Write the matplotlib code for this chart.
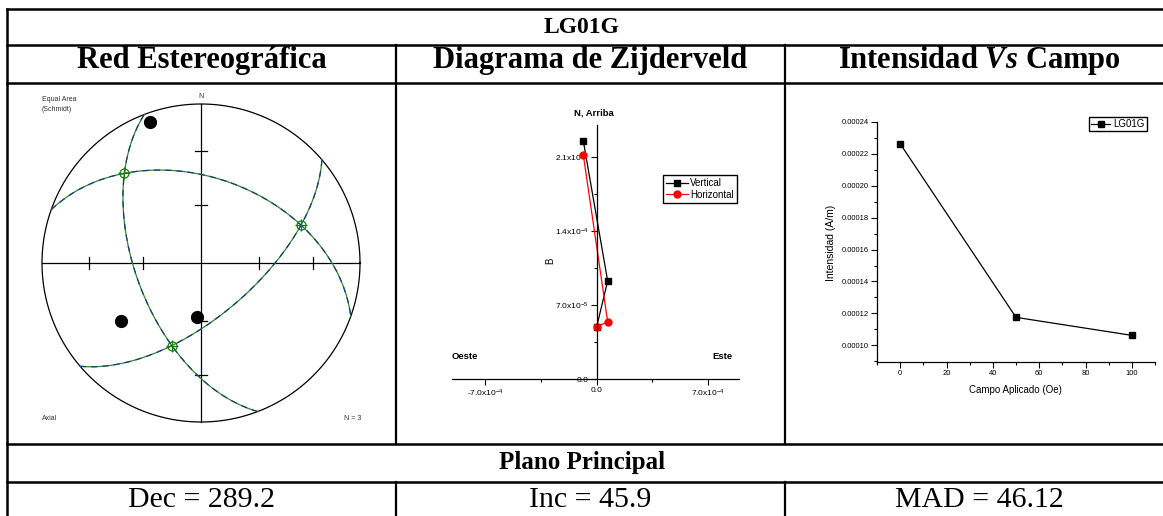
import numpy as np
import matplotlib
matplotlib.use('Agg')
import matplotlib.pyplot as plt
from matplotlib.ticker import MultipleLocator, FuncFormatter

plt.rcParams['font.family'] = ['Liberation Sans', 'DejaVu Sans']
plt.rcParams['mathtext.default'] = 'regular'
plt.rcParams['mathtext.fontset'] = 'custom'
plt.rcParams['mathtext.rm'] = 'Liberation Serif:bold'
plt.rcParams['mathtext.it'] = 'Liberation Serif:bold:italic'

W, H = 1163, 516

# ---- datos ----
# red estereografica (igual area, hemisferio inferior)
axial_trend = [340.0, 234.0, 184.5]
axial_plunge = [6.6, 37.9, 61.9]
plano_dipdir = [19.6, 249.1, 139.5]
plano_dip = [45.3, 56.3, 62.7]
cruce_trend = [319.5, 69.2, 199.5]
cruce_plunge = [26.7, 33.2, 44.1]
red_ticks = [30, 60]

# diagrama de zijderveld
zij_este = [-8.4e-5, 6.9e-5, 0.0]
zij_vertical = [2.248e-4, 9.26e-5, 4.94e-5]
zij_norte = [2.116e-4, 5.41e-5, 4.94e-5]

# intensidad vs campo
campo = [0, 50, 100]
intensidad = [2.2635e-4, 1.175e-4, 1.062e-4]

titulo = "LG01G"
encabezados = ["Red Estereográfica", "Diagrama de Zijderveld",
               r"$\mathrm{Intensidad}\ \mathit{Vs}\ \mathrm{Campo}$"]
subtitulo = "Plano Principal"
resultados = ["Dec = 289.2", "Inc = 45.9", "MAD = 46.12"]


def px_axes(left, top, right, bottom):
    return fig.add_axes([left / W, 1 - bottom / H, (right - left) / W, (bottom - top) / H])


def proyeccion(trend, plunge):
    t = np.radians(np.asarray(trend))
    p = np.radians(np.asarray(plunge))
    r = np.sqrt(1 - np.sin(p))
    return r * np.sin(t), r * np.cos(t)


def circulo_mayor(dipdir, dip, n=300):
    dd = np.radians(dipdir)
    d = np.radians(dip)
    th = np.linspace(0, np.pi, n)
    s = np.array([np.sin(dd - np.pi / 2), np.cos(dd - np.pi / 2), 0.0])
    v = np.array([np.cos(d) * np.sin(dd), np.cos(d) * np.cos(dd), np.sin(d)])
    pts = np.outer(np.cos(th), s) + np.outer(np.sin(th), v)
    x, y, z = pts.T
    k = 1 / np.sqrt(1 + z)
    return x * k, y * k


def sci(v, pos):
    if abs(v) < 1e-12:
        return "0.0"
    e = int(np.floor(np.log10(abs(v)) + 1e-9))
    m = v / 10 ** e
    return "%.1fx10$^{%d}$" % (m, e)


fig = plt.figure(figsize=(W / 100, H / 100), dpi=100)

# ---- tabla ----
tab = fig.add_axes([0, 0, 1, 1])
tab.set_xlim(0, W)
tab.set_ylim(H, 0)
tab.axis('off')
filas = [9, 45, 83, 444, 482, 519]
cols = [7, 396, 785, 1174]
for y in filas:
    tab.plot([cols[0], cols[-1]], [y, y], color='black', lw=1.8, solid_capstyle='projecting')
tab.plot([cols[0], cols[0]], [filas[0], filas[-1]], color='black', lw=1.8)
for x in cols[1:3]:
    tab.plot([x, x], [filas[1], filas[3]], color='black', lw=1.6)
    tab.plot([x, x], [filas[4], filas[5]], color='black', lw=1.6)

serif = ['Liberation Serif', 'DejaVu Serif']
centros = [(cols[i] + cols[i + 1]) / 2 for i in range(3)]
tab.text(582, 33, titulo, ha='center', va='baseline', fontsize=17, fontweight='bold', family=serif)
for cx, t in zip(centros, encabezados):
    tab.text(cx, 68, t, ha='center', va='baseline', fontsize=22, fontweight='bold', family=serif)
tab.text(582, 469, subtitulo, ha='center', va='baseline', fontsize=18, fontweight='bold', family=serif)
for cx, t in zip(centros, resultados):
    tab.text(cx, 507, t, ha='center', va='baseline', fontsize=21.5, family=serif)

# ---- red estereografica ----
an = px_axes(42, 104, 360, 422)
an.set_xlim(-1, 1)
an.set_ylim(-1, 1)
an.set_aspect('equal')
an.axis('off')
ang = np.linspace(0, 2 * np.pi, 400)
an.plot(np.cos(ang), np.sin(ang), color='black', lw=0.9, clip_on=False)
an.plot([-1, 1], [0, 0], color='black', lw=0.9, clip_on=False)
an.plot([0, 0], [-1, 1], color='black', lw=0.9, clip_on=False)
for p in red_ticks:
    r = np.sqrt(1 - np.sin(np.radians(p)))
    for sg in (-1, 1):
        an.plot([sg * r, sg * r], [-0.035, 0.035], color='black', lw=0.9)
        an.plot([-0.035, 0.035], [sg * r, sg * r], color='black', lw=0.9)
for dd, d in zip(plano_dipdir, plano_dip):
    gx, gy = circulo_mayor(dd, d)
    an.plot(gx, gy, color='#2e8b2e', lw=0.9, clip_on=False)
    an.plot(gx, gy, color='#1f3a78', lw=0.9, dashes=(5, 4), clip_on=False)
px, py = proyeccion(axial_trend, axial_plunge)
an.plot(px, py, 'o', color='black', ms=8.5, ls='none')
cx_, cy_ = proyeccion(cruce_trend, cruce_plunge)
an.plot(cx_, cy_, 'o', mfc='none', mec='#1a7a1a', ms=6.5, mew=0.9, ls='none')
an.plot(cx_, cy_, '+', color='#1a7a1a', ms=8, mew=0.9, ls='none')
gris = '#333333'
an.text(-1.0, 1.03, "Equal Area", fontsize=5, color=gris, ha='left', va='center')
an.text(-1.0, 0.965, "(Schmidt)", fontsize=5, color=gris, ha='left', va='center')
an.text(0, 1.045, "N", fontsize=5, color=gris, ha='center', va='center')
an.text(-1.0, -0.98, "Axial", fontsize=5, color=gris, ha='left', va='center')
an.text(1.01, -0.98, "N = 3", fontsize=5, color=gris, ha='right', va='center')

# ---- zijderveld ----
az = px_axes(452, 125, 739, 379)
az.plot(zij_este, zij_vertical, color='black', marker='s', ms=4, lw=0.9, label='Vertical')
az.plot(zij_este, zij_norte, color='red', marker='o', ms=5, lw=0.9, label='Horizontal')
az.set_xlim(-9.1e-4, 8.95e-4)
az.set_ylim(0, 2.4e-4)
az.spines['left'].set_position(('data', 0))
az.spines['top'].set_visible(False)
az.spines['right'].set_visible(False)
az.patch.set_alpha(0)
az.xaxis.set_major_locator(MultipleLocator(7e-4))
az.xaxis.set_minor_locator(MultipleLocator(3.5e-4))
az.yaxis.set_major_locator(MultipleLocator(7e-5))
az.yaxis.set_minor_locator(MultipleLocator(3.5e-5))
az.xaxis.set_major_formatter(FuncFormatter(sci))
az.yaxis.set_major_formatter(FuncFormatter(sci))
az.tick_params(which='both', direction='out', labelsize=6, width=0.8, pad=2)
az.tick_params(which='major', length=4)
az.tick_params(which='minor', length=2)
for s in ('left', 'bottom'):
    az.spines[s].set_linewidth(0.9)
az.legend(loc='upper right', bbox_to_anchor=(0.993, 0.803), fontsize=7, frameon=True,
          fancybox=False, edgecolor='black', framealpha=1, borderaxespad=0,
          handlelength=2.2, handletextpad=0.3, borderpad=0.3, labelspacing=0.2)
az.text(0.495, 1.047, "N, Arriba", transform=az.transAxes, fontsize=6.8, fontweight='bold',
        ha='center', va='center')
az.text(0.045, 0.09, "Oeste", transform=az.transAxes, fontsize=6.8, fontweight='bold',
        ha='center', va='center')
az.text(0.944, 0.09, "Este", transform=az.transAxes, fontsize=6.8, fontweight='bold',
        ha='center', va='center')
az.text(0.341, 0.465, "B", transform=az.transAxes, fontsize=7, rotation=90,
        ha='center', va='center')

# ---- intensidad vs campo ----
ai = px_axes(877, 122, 1155, 362)
ai.plot(campo, intensidad, color='black', marker='s', ms=4, lw=0.9, label='LG01G')
ai.set_xlim(-10, 110)
ai.set_ylim(8.95e-5, 2.4e-4)
ai.spines['top'].set_visible(False)
ai.spines['right'].set_visible(False)
ai.patch.set_alpha(0)
ai.xaxis.set_major_locator(MultipleLocator(20))
ai.xaxis.set_minor_locator(MultipleLocator(10))
ai.yaxis.set_major_locator(MultipleLocator(2e-5))
ai.yaxis.set_minor_locator(MultipleLocator(1e-5))
ai.yaxis.set_major_formatter(FuncFormatter(lambda v, p: "%.5f" % v))
ai.tick_params(which='both', direction='out', labelsize=5.5, width=0.8, pad=2)
ai.tick_params(which='major', length=4)
ai.tick_params(which='minor', length=2)
for s in ('left', 'bottom'):
    ai.spines[s].set_linewidth(0.9)
ai.text(-0.164, 0.496, "Intensidad (A/m)", transform=ai.transAxes, fontsize=7.5,
        rotation=90, ha='center', va='center')
ai.text(0.4995, -0.118, "Campo Aplicado (Oe)", transform=ai.transAxes, fontsize=7,
        ha='center', va='center')
ai.legend(loc='upper right', bbox_to_anchor=(0.97, 1.019), fontsize=7, frameon=True,
          fancybox=False, edgecolor='black', framealpha=1, borderaxespad=0,
          handlelength=2.0, handletextpad=0.3, borderpad=0.2)

fig.savefig('out.png', dpi=100)
